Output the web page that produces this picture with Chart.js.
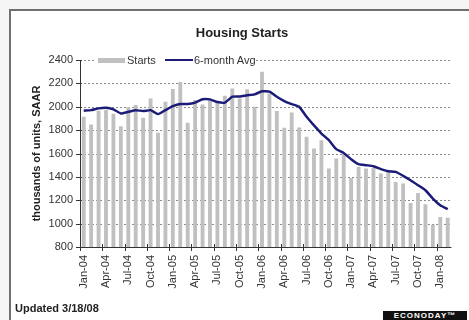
<!DOCTYPE html>
<html>
<head>
<meta charset="utf-8">
<script src="https://cdn.jsdelivr.net/npm/chart.js@4"></script>
<style>
  body { margin: 0; background: #fff; font-family: "Liberation Sans", Arial, sans-serif; }
  #wrap { position: relative; width: 469px; height: 320px; overflow: hidden; }
  canvas { position: absolute; left: 0; top: 0; }
  #title { position: absolute; left: 242px; top: 25px; transform: translateX(-50%);
           font-weight: bold; font-size: 13px; line-height: 16px; color: #222; white-space: nowrap; }
  #legend { position: absolute; left: 94px; top: 53px; width: 160px; height: 14px; background: #fff;
            font-size: 11px; line-height: 14px; color: #333; white-space: nowrap; }
  #legend span { position: absolute; }
  .updated { position: absolute; left: 15px; top: 302px; font-weight: bold; font-size: 11px; color: #222; }
  .logo { position: absolute; left: 383px; top: 311px; width: 84px; height: 12px; background: #111;
          color: #fff; font-weight: bold; font-size: 8px; line-height: 10px; letter-spacing: 1px;
          text-align: center; white-space: nowrap; }
</style>
</head>
<body>
<div id="wrap">
  <canvas id="startsChart" width="469" height="320"></canvas>
  <div id="title">Housing Starts</div>
  <div id="legend">
    <span style="left:4px;top:5px;width:27px;height:5px;background:#c0c0c0"></span>
    <span style="left:33px;top:0">Starts</span>
    <span style="left:71px;top:6px;width:28px;height:2px;background:#1c1c78"></span>
    <span style="left:100px;top:0">6-month Avg</span>
  </div>
  <div class="updated">Updated 3/18/08</div>
  <div class="logo">ECONODAY™</div>
</div>
<script>
const months = [
  'Jan-04','Feb-04','Mar-04','Apr-04','May-04','Jun-04','Jul-04','Aug-04','Sep-04','Oct-04','Nov-04','Dec-04',
  'Jan-05','Feb-05','Mar-05','Apr-05','May-05','Jun-05','Jul-05','Aug-05','Sep-05','Oct-05','Nov-05','Dec-05',
  'Jan-06','Feb-06','Mar-06','Apr-06','May-06','Jun-06','Jul-06','Aug-06','Sep-06','Oct-06','Nov-06','Dec-06',
  'Jan-07','Feb-07','Mar-07','Apr-07','May-07','Jun-07','Jul-07','Aug-07','Sep-07','Oct-07','Nov-07','Dec-07',
  'Jan-08','Feb-08'
];

// thousands of units, SAAR
const starts = [
  1914, 1849, 1965, 1975, 1940, 1834, 1995, 2014, 1906, 2071, 1777, 2043,
  2151, 2212, 1863, 2057, 2020, 2057, 2050, 2094, 2157, 2071, 2149, 2000,
  2300, 2114, 1963, 1820, 1951, 1823, 1743, 1643, 1714, 1471, 1557, 1594,
  1391, 1486, 1471, 1477, 1429, 1443, 1357, 1343, 1177, 1263, 1166, 991,
  1057, 1051
];

const avg6 = [
  1966, 1971, 1986, 1991, 1977, 1943, 1957, 1971, 1963, 1971, 1937, 1971,
  2005, 2024, 2023, 2035, 2064, 2063, 2040, 2035, 2086, 2088, 2098, 2106,
  2132, 2129, 2086, 2049, 2023, 2000, 1914, 1840, 1771, 1714, 1637, 1605,
  1551, 1509, 1500, 1491, 1466, 1449, 1443, 1409, 1371, 1329, 1286, 1214,
  1157, 1123
];

const font = { family: '"Liberation Sans", Arial, sans-serif', size: 11 };

// page frame: light surround, white panel with a grey left/top edge
const panel = {
  id: 'panel',
  beforeDraw(chart) {
    const { ctx, width, height } = chart;
    ctx.save();
    ctx.fillStyle = '#f5f5f5';
    ctx.fillRect(0, 0, width, height);
    ctx.fillStyle = '#fff';
    ctx.fillRect(9, 9, width, height);
    ctx.fillStyle = '#6f6f6f';
    ctx.fillRect(9, 9, width, 2);
    ctx.fillRect(9, 9, 2, height);
    ctx.restore();
  }
};

// dotted value gridlines, solid axes and tick marks, drawn from the scales
const axisLines = {
  id: 'axisLines',
  beforeDatasetsDraw(chart) {
    const { ctx, chartArea: a, scales: { x, y } } = chart;
    const crisp = v => Math.round(v) + 0.5;
    ctx.save();
    ctx.lineWidth = 1;

    ctx.strokeStyle = '#8a8a8a';
    ctx.setLineDash([2, 2]);
    ctx.beginPath();
    y.ticks.forEach(t => {
      const py = crisp(y.getPixelForValue(t.value));
      ctx.moveTo(a.left, py);
      ctx.lineTo(a.right, py);
    });
    ctx.stroke();

    ctx.setLineDash([]);
    ctx.strokeStyle = '#333';
    ctx.beginPath();
    y.ticks.forEach(t => {
      const py = crisp(y.getPixelForValue(t.value));
      ctx.moveTo(a.left - 4, py);
      ctx.lineTo(a.left + 2, py);
    });
    // quarter boundaries on the month axis
    for (let i = 0; i < months.length; i += 3) {
      const px = crisp(x.getPixelForValue(i - 0.5));
      ctx.moveTo(px, a.bottom - 3);
      ctx.lineTo(px, a.bottom + 4);
    }
    ctx.moveTo(crisp(a.left), a.top);
    ctx.lineTo(crisp(a.left), a.bottom);
    ctx.moveTo(a.left, crisp(a.bottom));
    ctx.lineTo(a.right, crisp(a.bottom));
    ctx.stroke();
    ctx.restore();
  }
};

new Chart(document.getElementById('startsChart').getContext('2d'), {
  type: 'bar',
  data: {
    labels: months,
    datasets: [
      {
        type: 'line',
        label: '6-month Avg',
        data: avg6,
        borderColor: '#1c1c78',
        borderWidth: 2.5,
        pointRadius: 0,
        tension: 0.15,
        order: 0
      },
      {
        label: 'Starts',
        data: starts,
        backgroundColor: '#c0c0c0',
        categoryPercentage: 1,
        barPercentage: 0.52,
        order: 1
      }
    ]
  },
  plugins: [panel, axisLines],
  options: {
    responsive: false,
    animation: false,
    layout: { padding: { left: 30, top: 60, right: 10, bottom: 0 } },
    plugins: { legend: { display: false }, title: { display: false }, tooltip: { enabled: false } },
    scales: {
      x: {
        offset: true,
        grid: { display: false, drawTicks: false },
        border: { display: false },
        ticks: {
          autoSkip: false,
          minRotation: 90,
          maxRotation: 90,
          padding: 8,
          color: '#333',
          font: font,
          callback: function (val, i) { return i % 3 === 0 ? this.getLabelForValue(val) : ''; }
        },
        afterFit: scale => { scale.height = 73; }
      },
      y: {
        min: 800,
        max: 2400,
        grid: { display: false, drawTicks: false },
        border: { display: false },
        ticks: { stepSize: 200, padding: 7, color: '#333', font: font, callback: v => String(v) },
        title: {
          display: true,
          text: 'thousands of units, SAAR',
          color: '#222',
          padding: { top: 0, bottom: 0 },
          font: { family: font.family, size: 11, weight: 'bold' }
        },
        afterFit: scale => { scale.width = 50; }
      }
    }
  }
});
</script>
</body>
</html>
